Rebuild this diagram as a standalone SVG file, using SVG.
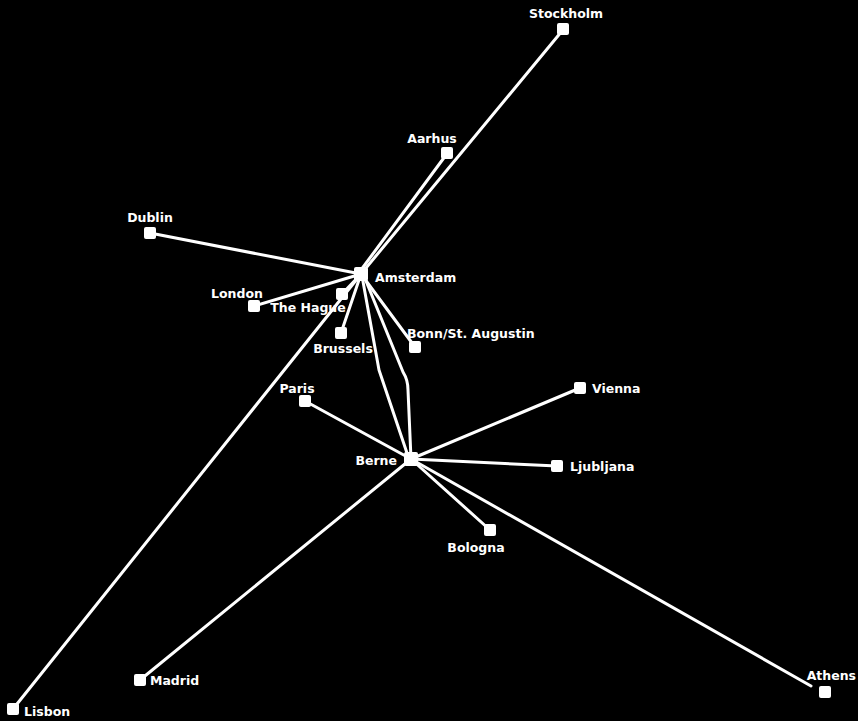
<svg xmlns="http://www.w3.org/2000/svg" width="858" height="721" viewBox="0 0 858 721">
<style>
.e{stroke:#fff;stroke-width:3;fill:none;stroke-linecap:round;stroke-linejoin:round}
.n{fill:#fff}
text{fill:#fff;font-family:"DejaVu Sans","Liberation Sans",sans-serif;font-size:12.5px;font-weight:bold}
</style>
<rect width="858" height="721" fill="#000"/>
<g id="connectors">
<line class="e" x1="361" y1="274" x2="562" y2="31"/>
<line class="e" x1="358" y1="274" x2="446" y2="155"/>
<line class="e" x1="150" y1="233" x2="361" y2="274"/>
<line class="e" x1="254" y1="306" x2="361" y2="274"/>
<line class="e" x1="342" y1="294" x2="361" y2="274"/>
<line class="e" x1="341" y1="333" x2="361" y2="274"/>
<line class="e" x1="415" y1="347" x2="361" y2="274"/>
<line class="e" x1="13" y1="709" x2="361" y2="274"/>
<polyline class="e" points="362,276 379,370 409,459"/>
<path class="e" d="M364,276 L403,372 Q408,380 408,390 L411,459"/>
<line class="e" x1="305" y1="401" x2="411" y2="459"/>
<line class="e" x1="411" y1="459" x2="580" y2="388"/>
<line class="e" x1="411" y1="459" x2="557" y2="466"/>
<line class="e" x1="411" y1="459" x2="490" y2="530"/>
<line class="e" x1="411" y1="459" x2="811" y2="686"/>
<line class="e" x1="411" y1="459" x2="140" y2="680"/>
</g>
<g id="stockholm"><rect class="n" x="557" y="23" width="12" height="12" rx="2"/><text x="566" y="18" text-anchor="middle">Stockholm</text></g>
<g id="aarhus"><rect class="n" x="441" y="147" width="12" height="12" rx="2"/><text x="432" y="143" text-anchor="middle">Aarhus</text></g>
<g id="dublin"><rect class="n" x="144" y="227" width="12" height="12" rx="2"/><text x="150" y="222" text-anchor="middle">Dublin</text></g>
<g id="amsterdam"><rect class="n" x="354" y="267" width="14" height="14" rx="2"/><text x="375" y="282">Amsterdam</text></g>
<g id="london"><rect class="n" x="248" y="300" width="12" height="12" rx="2"/><text x="237" y="298" text-anchor="middle">London</text></g>
<g id="thehague"><rect class="n" x="336" y="288" width="12" height="12" rx="2"/><text x="308" y="312" text-anchor="middle">The Hague</text></g>
<g id="brussels"><rect class="n" x="335" y="327" width="12" height="12" rx="2"/><text x="343" y="353" text-anchor="middle">Brussels</text></g>
<g id="bonn"><rect class="n" x="409" y="341" width="12" height="12" rx="2"/><text x="407" y="338">Bonn/St. Augustin</text></g>
<g id="paris"><rect class="n" x="299" y="395" width="12" height="12" rx="2"/><text x="297" y="393" text-anchor="middle">Paris</text></g>
<g id="berne"><rect class="n" x="404" y="452" width="14" height="14" rx="2"/><text x="397" y="465" text-anchor="end">Berne</text></g>
<g id="vienna"><rect class="n" x="574" y="382" width="12" height="12" rx="2"/><text x="592" y="393">Vienna</text></g>
<g id="ljubljana"><rect class="n" x="551" y="460" width="12" height="12" rx="2"/><text x="570" y="471">Ljubljana</text></g>
<g id="bologna"><rect class="n" x="484" y="524" width="12" height="12" rx="2"/><text x="476" y="552" text-anchor="middle">Bologna</text></g>
<g id="madrid"><rect class="n" x="134" y="674" width="12" height="12" rx="2"/><text x="150" y="685">Madrid</text></g>
<g id="lisbon"><rect class="n" x="7" y="703" width="12" height="12" rx="2"/><text x="24" y="716">Lisbon</text></g>
<g id="athens"><rect class="n" x="819" y="686" width="12" height="12" rx="2"/><text x="856" y="680" text-anchor="end">Athens</text></g>
</svg>
